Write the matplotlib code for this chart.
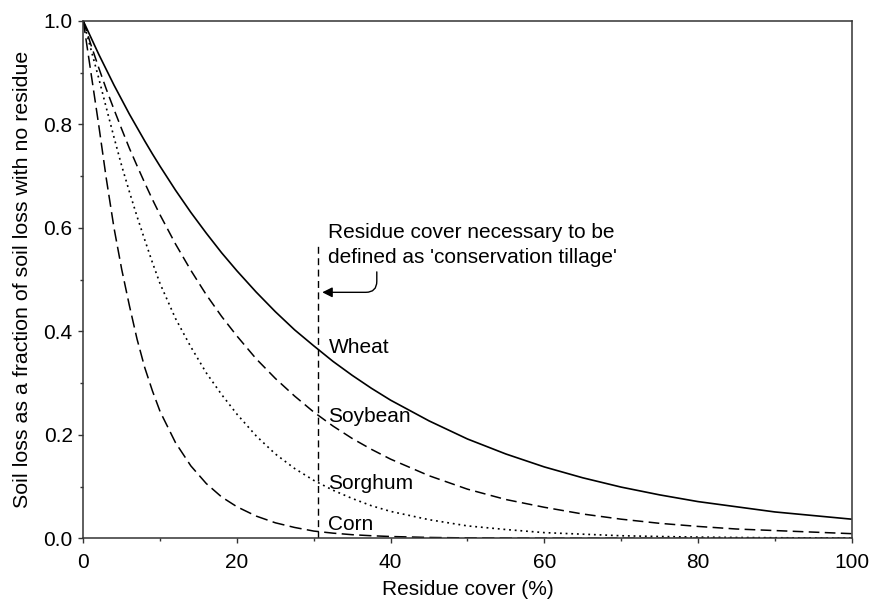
import matplotlib
matplotlib.use("Agg")
import matplotlib.pyplot as plt
from matplotlib.ticker import MultipleLocator

plt.rcParams['font.family'] = ['Liberation Sans', 'DejaVu Sans']

# Residue cover (%) at which each curve is sampled
cover = [0, 1, 2, 3, 4, 5, 6, 7, 8, 9, 10, 12, 14, 16, 18, 20, 22.5, 25, 27.5,
         30, 32.5, 35, 37.5, 40, 45, 50, 55, 60, 65, 70, 75, 80, 85, 90, 95, 100]

# Soil loss relative to bare soil, per crop residue
wheat = [1.000, 0.968, 0.936, 0.906, 0.876, 0.848, 0.820, 0.794, 0.768, 0.743,
         0.719, 0.673, 0.630, 0.590, 0.552, 0.517, 0.476, 0.438, 0.403, 0.372,
         0.342, 0.315, 0.290, 0.267, 0.227, 0.192, 0.163, 0.138, 0.117, 0.099,
         0.084, 0.071, 0.061, 0.051, 0.044, 0.037]
soybean = [1.000, 0.954, 0.910, 0.868, 0.829, 0.791, 0.754, 0.720, 0.687, 0.655,
           0.625, 0.569, 0.518, 0.471, 0.429, 0.391, 0.347, 0.309, 0.275, 0.244,
           0.217, 0.193, 0.172, 0.153, 0.121, 0.095, 0.075, 0.060, 0.047, 0.037,
           0.029, 0.023, 0.018, 0.015, 0.012, 0.009]
sorghum = [1.000, 0.945, 0.890, 0.832, 0.775, 0.720, 0.670, 0.622, 0.577, 0.533,
           0.492, 0.425, 0.370, 0.320, 0.278, 0.240, 0.198, 0.163, 0.135, 0.112,
           0.093, 0.077, 0.063, 0.052, 0.036, 0.024, 0.017, 0.011, 0.008, 0.005,
           0.0035, 0.0024, 0.0016, 0.0011, 0.0008, 0.0005]
corn = [1.000, 0.900, 0.800, 0.695, 0.600, 0.520, 0.450, 0.385, 0.330, 0.285,
        0.245, 0.185, 0.140, 0.106, 0.080, 0.061, 0.043, 0.030, 0.021, 0.014,
        0.010, 0.007, 0.005, 0.0035, 0.0017, 0.0008, 0.0004, 0.0002, 0.0001,
        0.0001, 0.0, 0.0, 0.0, 0.0, 0.0, 0.0]

# Threshold for conservation tillage
threshold = 30.5
threshold_top = 0.565

# Curve labels: (text, x, baseline y)
labels = [("Wheat", 32.0, 0.358),
          ("Soybean", 31.9, 0.224),
          ("Sorghum", 31.9, 0.095),
          ("Corn", 31.9, 0.016)]

FS = 15

fig = plt.figure(figsize=(8.71, 5.99), dpi=100)
ax = fig.add_axes([0.0956, 0.1013, 0.8822, 0.8637])

ax.plot(cover, wheat, color='black', lw=1.2, solid_capstyle='butt')
ax.plot(cover, soybean, color='black', lw=1.1, linestyle=(0, (7, 3.5)))
ax.plot(cover, sorghum, color='black', lw=1.2, linestyle=(0, (1.1, 2.3)))
ax.plot(cover, corn, color='black', lw=1.1, linestyle=(0, (8, 3.5)))

ax.plot([threshold, threshold], [0, threshold_top], color='black', lw=1.0,
        linestyle=(0, (5, 3.2)))

for text, x, y in labels:
    ax.text(x, y, text, fontsize=FS, ha='left', va='baseline')

ax.text(31.85, 0.580, "Residue cover necessary to be", fontsize=FS,
        ha='left', va='baseline')
ax.text(31.85, 0.5316, "defined as 'conservation tillage'", fontsize=FS,
        ha='left', va='baseline')

ax.annotate("", xy=(31.1, 0.4755), xytext=(38.2, 0.515),
            arrowprops=dict(arrowstyle='-|>', color='black', lw=1.0,
                            mutation_scale=15,
                            connectionstyle="angle,angleA=-90,angleB=0,rad=11",
                            shrinkA=0, shrinkB=0))

ax.set_xlim(0, 100)
ax.set_ylim(0, 1.0)
ax.xaxis.set_major_locator(MultipleLocator(20))
ax.xaxis.set_minor_locator(MultipleLocator(10))
ax.yaxis.set_major_locator(MultipleLocator(0.2))
ax.yaxis.set_minor_locator(MultipleLocator(0.1))
ax.yaxis.set_major_formatter(plt.FormatStrFormatter('%.1f'))

ax.tick_params(which='major', direction='out', length=3.6, width=1.0,
               labelsize=FS, pad=4, color='#333333')
ax.tick_params(which='minor', direction='out', length=2.4, width=1.0,
               color='#333333')
ax.tick_params(axis='x', which='major', pad=7)
for s in ax.spines.values():
    s.set_linewidth(1.1)
    s.set_color('#333333')

ax.set_xlabel("Residue cover (%)", fontsize=FS, labelpad=6)
ax.set_ylabel("Soil loss as a fraction of soil loss with no residue",
              fontsize=15.4, labelpad=8)

fig.savefig("out.png", dpi=100, facecolor='white')
